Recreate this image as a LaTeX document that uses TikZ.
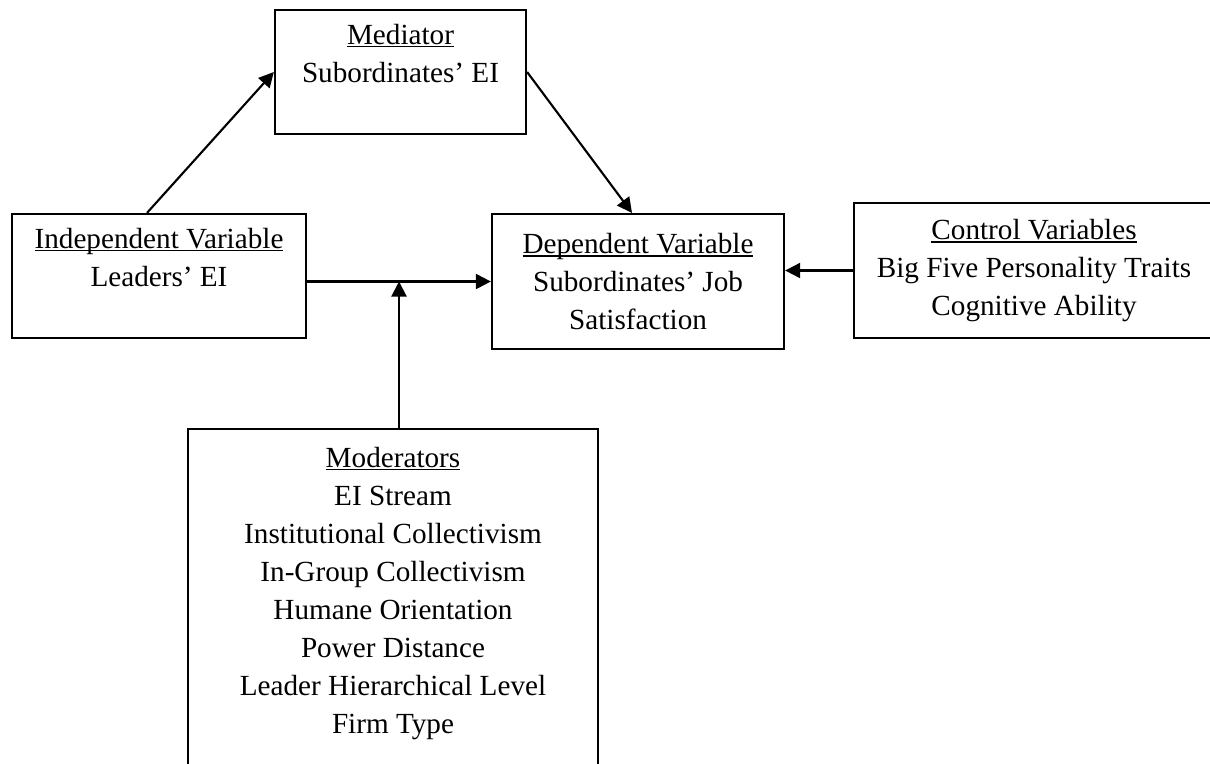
\documentclass[tikz,border=0pt]{standalone}
\usepackage{fontspec}
\setmainfont{Liberation Serif}
\usetikzlibrary{arrows.meta,positioning,calc}

% underline set close under the baseline
\newcommand{\hdrline}[1]{\leavevmode\setbox0\hbox{#1}\rlap{\rule[-0.11em]{\wd0}{0.055em}}\box0}

\begin{document}
\begin{tikzpicture}[
    x=0.01cm, y=-0.01cm,
    varbox/.style={rectangle, draw, line width=0.6pt, align=center, inner sep=0pt, font=\fontsize{8.3}{10.8}\selectfont},
    arrow/.style={-{Triangle[length=0.15cm, width=0.15cm]}, line width=0.6pt}
]
\clip (0,0) rectangle (1210,763);

% Mediator
\node[varbox, minimum width=2.51cm, minimum height=1.24cm] (med) at (400.5,72) {\hdrline{Mediator}\\Subordinates’ EI\\~};

% Independent variable
\node[varbox, minimum width=2.94cm, minimum height=1.24cm] (ind) at (159,276) {\hdrline{Independent Variable}\\Leaders’ EI\\~};

% Dependent variable
\node[varbox, minimum width=2.92cm, minimum height=1.35cm] (dep) at (638,281.5) {\hdrline{Dependent Variable}\\Subordinates’ Job\\Satisfaction};

% Control variables
\node[varbox, minimum width=3.60cm, minimum height=1.35cm] (ctrl) at (1034,270.5) {\hdrline{Control Variables}\\Big Five Personality Traits\\Cognitive Ability};

% Moderators
\node[varbox, minimum width=4.10cm, minimum height=3.60cm] (mod) at (393,609) {\hdrline{Moderators}\\EI Stream\\Institutional Collectivism\\In-Group Collectivism\\Humane Orientation\\Power Distance\\Leader Hierarchical Level\\Firm Type\\~};

% Arrows
\coordinate (junc) at ($(ind.east |- dep.west)!0.5!(dep.west)$);
\draw[arrow] ([xshift=-0.12cm]ind.north) -- (med.west);
\draw[arrow] (med.east) -- ([xshift=-0.06cm]dep.north);
\draw[arrow] (ind.east |- dep.west) -- (dep.west);
\draw[arrow] (mod.north -| junc) -- (junc);
\draw[arrow] (ctrl.west) -- (ctrl.west -| dep.east);

\end{tikzpicture}
\end{document}
